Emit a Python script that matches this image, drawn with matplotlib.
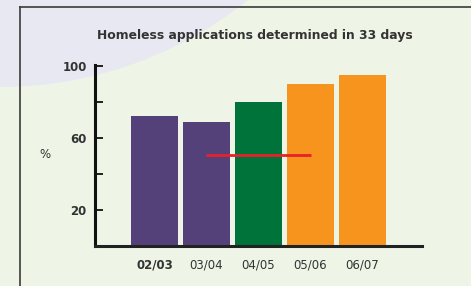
import matplotlib
matplotlib.use('Agg')
import matplotlib.pyplot as plt
from matplotlib.patches import Circle
from matplotlib.lines import Line2D

# data
years = ['02/03', '03/04', '04/05', '05/06', '06/07']
pct = [72, 69, 80, 90, 95]
bar_colors = ['#55417A', '#55417A', '#00733A', '#F7941E', '#F7941E']
target_value = 50.5
target_span = (1, 3)  # from 03/04 to 05/06

fig = plt.figure(figsize=(4.71, 2.86), dpi=100)
fig.patch.set_facecolor('#EEF4E6')

# lavender disc in the top-left corner (kept behind the axes)
disc = Circle((0.0, 5.96), 3.97, transform=fig.dpi_scale_trans,
              facecolor='#E8E8F3', edgecolor='none', zorder=-5)
fig.patches.append(disc)

# frame: top and left rules
fig.lines.append(Line2D([20 / 471, 1.0], [1 - 6.5 / 286, 1 - 6.5 / 286],
                        transform=fig.transFigure, color='#3A3A3A', linewidth=1.2,
                        zorder=-4))
fig.lines.append(Line2D([20 / 471, 20 / 471], [1 - 6.5 / 286, 0.0],
                        transform=fig.transFigure, color='#3A3A3A', linewidth=1.2,
                        zorder=-4))

ax = fig.add_axes([95 / 471, 1 - 246 / 286, (422 - 95) / 471, (246 - 65) / 286])
ax.set_facecolor('none')

x = list(range(len(years)))
ax.bar(x, pct, width=0.9, color=bar_colors, zorder=2)
ax.plot(target_span, [target_value, target_value], color='#E8202A',
        linewidth=2.0, solid_capstyle='butt', zorder=3)

ax.set_xlim(-1.144, 5.144)
ax.set_ylim(0, 100.5)

for side in ['top', 'right']:
    ax.spines[side].set_visible(False)
ax.spines['left'].set_linewidth(2.2)
ax.spines['left'].set_color('#111111')
ax.spines['bottom'].set_linewidth(2.2)
ax.spines['bottom'].set_color('#222222')

ax.set_yticks([20, 40, 60, 80, 100])
ax.set_yticklabels(['20', '', '60', '', '100'])
ax.tick_params(axis='y', direction='in', length=6, width=1.3, color='#111111',
               labelsize=8.5, labelcolor='#333333', pad=6)
for lab in ax.get_yticklabels():
    lab.set_fontweight('bold')

ax.set_xticks(x)
ax.set_xticklabels(years)
ax.tick_params(axis='x', length=0, labelsize=8.5, labelcolor='#333333', pad=9)
ax.get_xticklabels()[0].set_fontweight('bold')

fig.text(45 / 471, 1 - 155 / 286, '%', fontsize=8.5, color='#333333',
         ha='center', va='center')
fig.text(255 / 471, 1 - 36 / 286, 'Homeless applications determined in 33 days',
         fontsize=8.9, fontweight='bold', color='#333333', ha='center', va='center')

fig.savefig('out.png', dpi=100, facecolor=fig.get_facecolor())
